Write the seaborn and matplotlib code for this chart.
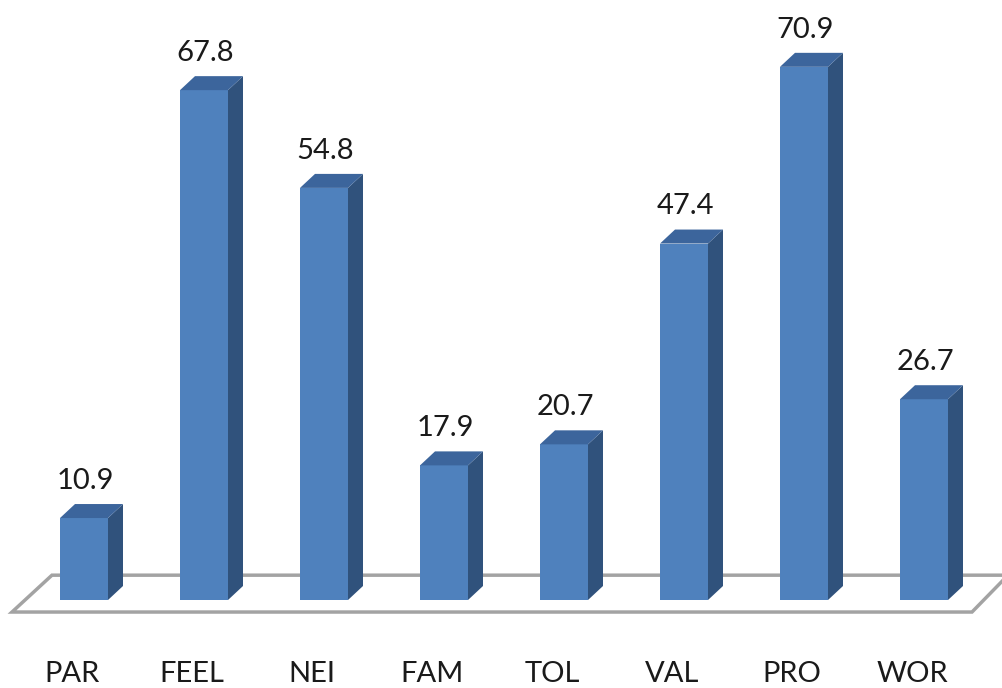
import matplotlib
matplotlib.use("Agg")
import matplotlib.pyplot as plt
import matplotlib.transforms as mtransforms
from matplotlib.patches import Polygon
import seaborn as sns
import pandas as pd

categories = ["PAR", "FEEL", "NEI", "FAM", "TOL", "VAL", "PRO", "WOR"]
values = [10.9, 67.8, 54.8, 17.9, 20.7, 47.4, 70.9, 26.7]
value_labels = ["10.9", "67.8", "54.8", "17.9", "20.7", "47.4", "70.9", "26.7"]

FRONT = "#4F81BD"
SIDE = "#30527C"
TOP = "#3C659C"
FLOOR_EDGE = "#A3A3A3"

sns.set_style("white")
plt.rcParams["font.family"] = ["Lato", "DejaVu Sans"]

DPI = 100
W, H = 1003, 688
fig = plt.figure(figsize=(W / DPI, H / DPI), dpi=DPI)
ax_bottom_px = 640
ax = fig.add_axes([0, (H - ax_bottom_px) / H, 1, ax_bottom_px / H])

df = pd.DataFrame({"cat": categories, "val": values})
sns.barplot(data=df, x="cat", y="val", color=FRONT, saturation=1, width=0.4,
            ax=ax, zorder=3, edgecolor="none")
bars = list(ax.patches)

# scale: 120 px per category, 7.52 px per unit, baseline at pixel row 600
px_per_x = 120.0
px_per_y = 7.52
x_center0 = 84.0
ax.set_xlim(-x_center0 / px_per_x, (W - x_center0) / px_per_x)
ax.set_ylim(-(ax_bottom_px - 600) / px_per_y, 600 / px_per_y)

dx = 15 / px_per_x
dy = 14 / px_per_y

# floor parallelogram
floor = Polygon([(-0.6, -1.6), (7.4, -1.6), (7.7, 3.3), (-0.267, 3.3)],
                closed=True, facecolor="white", edgecolor=FLOOR_EDGE,
                linewidth=2.5, zorder=1, joinstyle="miter")
ax.add_patch(floor)

for p, lab in zip(bars, value_labels):
    x0 = p.get_x()
    w = p.get_width()
    h = p.get_height()
    side = Polygon([(x0 + w, 0), (x0 + w + dx, dy), (x0 + w + dx, h + dy), (x0 + w, h)],
                   closed=True, facecolor=SIDE, edgecolor="none", zorder=3)
    top = Polygon([(x0, h), (x0 + w, h), (x0 + w + dx, h + dy), (x0 + dx, h + dy)],
                  closed=True, facecolor=TOP, edgecolor="none", zorder=3)
    ax.add_patch(side)
    ax.add_patch(top)
    ax.annotate(lab, xy=(x0 + w / 2, h), xytext=(1, 21), textcoords="offset points",
                ha="center", va="baseline", fontsize=21, color="#1a1a1a")

for s in ax.spines.values():
    s.set_visible(False)
ax.set_xlabel("")
ax.set_ylabel("")
ax.set_yticks([])
ax.tick_params(axis="x", length=0, pad=15, labelsize=21, labelcolor="#1a1a1a")
shift = mtransforms.ScaledTranslation(-12 / DPI, 0, fig.dpi_scale_trans)
for t in ax.get_xticklabels():
    t.set_transform(t.get_transform() + shift)

fig.savefig("out.png", dpi=DPI)
